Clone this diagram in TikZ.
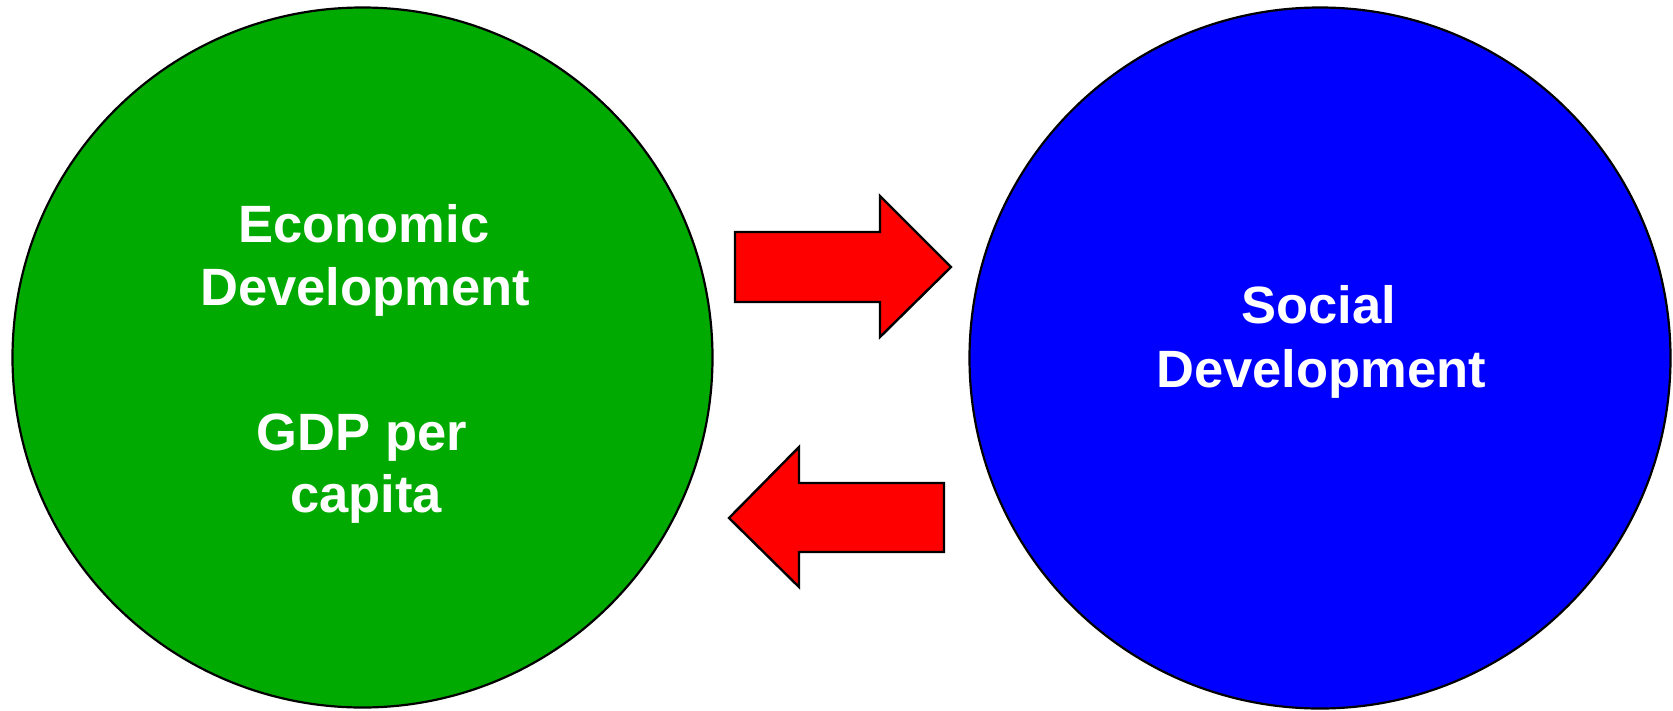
\documentclass[tikz,border=0pt]{standalone}
\usepackage{fontspec}
\setmainfont{Liberation Sans}
\definecolor{econgreen}{RGB}{0,170,0}
\definecolor{socblue}{RGB}{0,0,255}
\definecolor{arrowred}{RGB}{255,0,0}
\begin{document}
\begin{tikzpicture}[x=1pt,y=-1pt,
  circ/.style={draw=black,line width=2.2pt},
  lbl/.style={text=white,font=\fontsize{52.5}{63}\selectfont\bfseries,anchor=base,inner sep=0pt},
  blockarrow/.style={draw=black,fill=arrowred,line width=2.4pt,line join=miter}]
\useasboundingbox (0,0) rectangle (1673,710);
% circles
\fill[econgreen] (362.5,357.5) circle[radius=350];
\draw[circ] (362.5,357.5) circle[radius=350];
\fill[socblue] (1320,358) circle[radius=350.5];
\draw[circ] (1320,358) circle[radius=350.5];
% labels
\node[lbl] (econ1) at (364,242) {Economic};
\node[lbl] (econ2) at (365,305) {Development};
\node[lbl] (gdp1) at (362,450) {GDP per};
\node[lbl] (gdp2) at (366,512) {capita};
\node[lbl] (soc1) at (1319,323) {Social};
\node[lbl] (soc2) at (1321,387) {Development};
% block arrows
\draw[blockarrow] (735,232) -- (880,232) -- (880,196) -- (951,267) -- (880,337) -- (880,302) -- (735,302) -- cycle;
\draw[blockarrow] (944,483) -- (799,483) -- (799,447) -- (729,518) -- (799,587) -- (799,552) -- (944,552) -- cycle;
\end{tikzpicture}
\end{document}
